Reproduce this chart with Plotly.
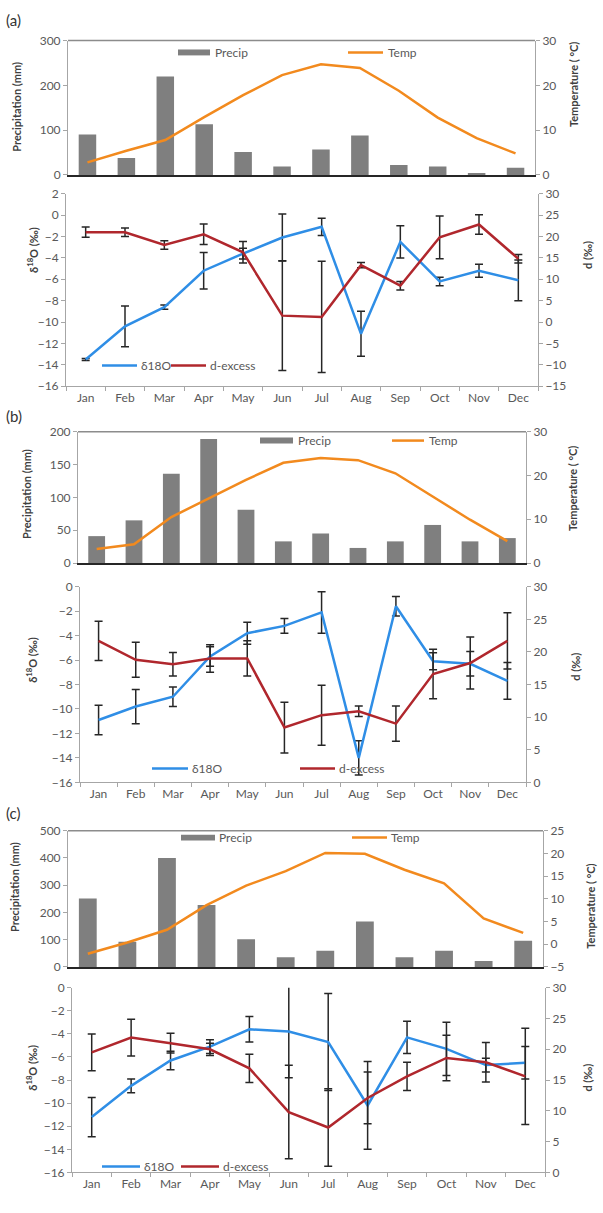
import plotly.graph_objects as go

months = ["Jan", "Feb", "Mar", "Apr", "May", "Jun", "Jul", "Aug", "Sep", "Oct", "Nov", "Dec"]

# ---- (a) ----
precip_a = [90, 38, 220, 113, 51, 19, 57, 88, 22, 19, 4, 16]
temp_a = [2.8, 5.4, 7.8, 12.9, 17.8, 22.3, 24.7, 23.9, 18.8, 12.8, 8.2, 4.8]
d18o_a = [-13.5, -10.4, -8.6, -5.2, -3.6, -2.1, -1.1, -11.1, -2.5, -6.2, -5.2, -6.1]
d18o_err_a = [0.1, 1.9, 0.2, 1.7, 0.5, 2.2, 0.8, 2.1, 1.5, 0.4, 0.6, 1.9]
dex_a = [21.0, 21.0, 18.0, 20.5, 16.3, 1.5, 1.2, 13.3, 8.5, 19.8, 22.8, 14.8]
dex_err_a = [1.2, 1.0, 1.0, 2.4, 2.5, 12.8, 13.0, 0.6, 1.0, 5.0, 2.3, 1.0]

# ---- (b) ----
precip_b = [41, 65, 136, 189, 81, 33, 45, 23, 33, 58, 33, 38]
temp_b = [3.2, 4.3, 10.5, 14.8, 19.0, 22.9, 24.0, 23.5, 20.5, 15.2, 9.9, 5.0]
d18o_b = [-10.9, -9.8, -9.0, -5.7, -3.8, -3.2, -2.1, -14.0, -1.6, -6.1, -6.3, -7.7]
d18o_err_b = [1.2, 1.4, 0.8, 0.8, 0.9, 0.6, 1.7, 1.4, 0.8, 0.7, 1.0, 1.5]
dex_b = [21.7, 18.8, 18.1, 19.0, 19.0, 8.4, 10.3, 10.9, 9.0, 16.6, 18.3, 21.7]
dex_err_b = [3.0, 2.7, 1.8, 2.1, 2.7, 3.9, 4.6, 0.8, 2.7, 3.8, 4.0, 4.3]

# ---- (c) ----
precip_c = [251, 93, 400, 227, 102, 36, 60, 167, 36, 60, 22, 96]
temp_c = [-2.1, 0.4, 3.2, 8.6, 12.9, 16.1, 20.1, 19.9, 16.4, 13.4, 5.7, 2.5]
d18o_c = [-11.2, -8.5, -6.3, -5.1, -3.6, -3.8, -4.7, -10.2, -4.3, -5.3, -6.7, -6.5]
d18o_err_c = [1.7, 0.6, 0.8, 0.6, 1.1, 4.0, 4.2, 3.8, 1.4, 2.3, 0.6, 1.4]
dex_c = [19.5, 21.9, 21.0, 20.0, 16.9, 9.8, 7.3, 12.1, 15.6, 18.6, 17.9, 15.6]
dex_err_c = [3.0, 3.0, 1.6, 1.0, 2.3, 7.6, 6.3, 4.2, 2.3, 3.7, 3.2, 7.8]

W, H = 603, 1213
FONT = "Lato"
TICK_COLOR = "#595959"
AXIS_GRAY = "#a6a6a6"
BAR_GRAY = "#7f7f7f"
ORANGE = "#f28a1e"
BLUE = "#2f8ee6"
RED = "#b0272d"
ERR = "#262626"

panels = [
    dict(label="(a)", label_y=12,
         precip=precip_a, temp=temp_a, iso=d18o_a, iso_err=d18o_err_a, dex=dex_a, dex_err=dex_err_a,
         top=(33, 169), bot=(188, 383), xtop=(68, 535), xbot=(66, 538),
         p_range=[0, 300], p_dtick=100, t_range=[0, 30], t_dtick=10,
         i_range=[-16, 2], d_range=[-15, 30],
         titles=dict(p=(17, 100), t=(573, 78), i=(33, 245), d=(588, 250)),
         leg_top=dict(y=45, ps=(178, 210), pt=213, ts=(348, 383), tt=386),
         leg_bot=dict(y=362, bs=(102, 137), bt=139, rs=(171, 206), rt=208)),
    dict(label="(b)", label_y=413,
         precip=precip_b, temp=temp_b, iso=d18o_b, iso_err=d18o_err_b, dex=dex_b, dex_err=dex_err_b,
         top=(429, 562), bot=(586, 784), xtop=(78, 526), xbot=(80, 526),
         p_range=[0, 200], p_dtick=50, t_range=[0, 30], t_dtick=10,
         i_range=[-16, 0], d_range=[0, 30],
         titles=dict(p=(27, 492), t=(573, 487), i=(32, 660), d=(576, 667)),
         leg_top=dict(y=438, ps=(260, 293), pt=296, ts=(392, 424), tt=427),
         leg_bot=dict(y=770, bs=(152, 188), bt=190, rs=(300, 335), rt=337)),
    dict(label="(c)", label_y=815,
         precip=precip_c, temp=temp_c, iso=d18o_c, iso_err=d18o_err_c, dex=dex_c, dex_err=dex_err_c,
         top=(833, 971), bot=(992, 1179), xtop=(68, 543), xbot=(72, 545),
         p_range=[0, 500], p_dtick=100, t_range=[-5, 25], t_dtick=5,
         i_range=[-16, 0], d_range=[0, 30],
         titles=dict(p=(15, 890), t=(591, 910), i=(32, 1073), d=(588, 1083)),
         leg_top=dict(y=840, ps=(181, 215), pt=217, ts=(352, 387), tt=389),
         leg_bot=dict(y=1173, bs=(102, 140), bt=142, rs=(181, 219), rt=221)),
]


def px(x):
    return x / W


def py(y):
    return 1 - y / H


def ref(prefix, n):
    return prefix + ("" if n == 1 else str(n))


def lname(prefix, n):
    return prefix + "axis" + ("" if n == 1 else str(n))


fig = go.Figure()
tickfont = dict(family=FONT, size=12, color=TICK_COLOR)
title_font = dict(family=FONT, size=11, color="#404040")
layout = {}
shapes = []
annotations = []


def y_axis(domain, rng, dtick, anchor, side="left", overlay=None):
    ax = dict(domain=domain, range=rng, dtick=dtick, anchor=anchor, side=side,
              showline=True, linecolor=AXIS_GRAY, linewidth=1,
              ticks="outside", ticklen=4, tickcolor=AXIS_GRAY,
              showgrid=False, zeroline=False, tickfont=tickfont, fixedrange=True)
    if overlay:
        ax["overlaying"] = overlay
    return ax


def legend_text(x, y, text):
    annotations.append(dict(x=px(x), y=py(y), xref="paper", yref="paper", text=text,
                            showarrow=False, xanchor="left", yanchor="middle",
                            font=dict(family=FONT, size=12, color=TICK_COLOR)))


def legend_line(x0, x1, y, color):
    shapes.append(dict(type="line", xref="paper", yref="paper", x0=px(x0), x1=px(x1),
                       y0=py(y), y1=py(y), line=dict(color=color, width=2.5)))


for i, p in enumerate(panels):
    xt, xb = 2 * i + 1, 2 * i + 2
    yp, yt, yi, yd = 4 * i + 1, 4 * i + 2, 4 * i + 3, 4 * i + 4

    top_dom = [py(p["top"][1]), py(p["top"][0])]
    bot_dom = [py(p["bot"][1]), py(p["bot"][0])]

    # climate panel: precipitation bars and temperature line
    fig.add_trace(go.Bar(x=months, y=p["precip"], width=0.45, marker_color=BAR_GRAY,
                         marker_line_width=0, name="Precip", showlegend=False,
                         xaxis=ref("x", xt), yaxis=ref("y", yp)))
    fig.add_trace(go.Scatter(x=months, y=p["temp"], mode="lines", line=dict(color=ORANGE, width=2.5),
                             name="Temp", showlegend=False,
                             xaxis=ref("x", xt), yaxis=ref("y", yt)))

    # isotope panel: δ18O and d-excess with error bars
    fig.add_trace(go.Scatter(x=months, y=p["iso"], mode="lines", line=dict(color=BLUE, width=2.5),
                             error_y=dict(type="data", array=p["iso_err"], color=ERR, thickness=1.5, width=4),
                             name="δ18O", showlegend=False,
                             xaxis=ref("x", xb), yaxis=ref("y", yi)))
    fig.add_trace(go.Scatter(x=months, y=p["dex"], mode="lines", line=dict(color=RED, width=2.5),
                             error_y=dict(type="data", array=p["dex_err"], color=ERR, thickness=1.5, width=4),
                             name="d-excess", showlegend=False,
                             xaxis=ref("x", xb), yaxis=ref("y", yd)))

    layout[lname("x", xt)] = dict(domain=[px(p["xtop"][0]), px(p["xtop"][1])], anchor=ref("y", yp),
                                  type="category", categoryorder="array", categoryarray=months,
                                  range=[-0.5, 11.5], showticklabels=False, ticks="",
                                  showline=True, linecolor="#262626", linewidth=1.5,
                                  showgrid=False, zeroline=False, fixedrange=True)
    layout[lname("x", xb)] = dict(domain=[px(p["xbot"][0]), px(p["xbot"][1])], anchor=ref("y", yi),
                                  type="category", categoryorder="array", categoryarray=months,
                                  range=[-0.5, 11.5], tickson="boundaries", ticks="outside",
                                  ticklen=4, tickcolor=AXIS_GRAY, showline=True, linecolor=AXIS_GRAY,
                                  linewidth=1, showgrid=False, zeroline=False, tickfont=tickfont,
                                  fixedrange=True)
    layout[lname("y", yp)] = y_axis(top_dom, p["p_range"], p["p_dtick"], ref("x", xt))
    layout[lname("y", yt)] = y_axis(top_dom, p["t_range"], p["t_dtick"], ref("x", xt), "right", ref("y", yp))
    layout[lname("y", yi)] = y_axis(bot_dom, p["i_range"], 2, ref("x", xb))
    layout[lname("y", yd)] = y_axis(bot_dom, p["d_range"], 5, ref("x", xb), "right", ref("y", yi))

    # frame line along the top of the climate panel
    shapes.append(dict(type="line", xref=ref("x", xt) + " domain", yref=ref("y", yp) + " domain",
                       x0=0, x1=1, y0=1, y1=1, line=dict(color="#8c8c8c", width=1.5)))

    # panel letter
    annotations.append(dict(x=px(4), y=py(p["label_y"]), xref="paper", yref="paper", text=p["label"],
                            showarrow=False, xanchor="left", yanchor="middle",
                            font=dict(family=FONT, size=15, color="#333333")))

    # axis titles
    t = p["titles"]
    for key, txt in [("p", "<b>Precipitation (mm)</b>"), ("t", "<b>Temperature ( °C)</b>"),
                     ("i", "<b>δ<sup>18</sup>O (‰)</b>"), ("d", "<b>d (‰)</b>")]:
        annotations.append(dict(x=px(t[key][0]), y=py(t[key][1]), xref="paper", yref="paper",
                                text=txt, showarrow=False, textangle=-90,
                                xanchor="center", yanchor="middle", font=title_font))

    # legends
    lt = p["leg_top"]
    shapes.append(dict(type="rect", xref="paper", yref="paper", x0=px(lt["ps"][0]), x1=px(lt["ps"][1]),
                       y0=py(lt["y"] + 3), y1=py(lt["y"] - 3), fillcolor=BAR_GRAY, line_width=0))
    legend_text(lt["pt"], lt["y"], "Precip")
    legend_line(lt["ts"][0], lt["ts"][1], lt["y"], ORANGE)
    legend_text(lt["tt"], lt["y"], "Temp")

    lb = p["leg_bot"]
    legend_line(lb["bs"][0], lb["bs"][1], lb["y"], BLUE)
    legend_text(lb["bt"], lb["y"], "δ18O")
    legend_line(lb["rs"][0], lb["rs"][1], lb["y"], RED)
    legend_text(lb["rt"], lb["y"], "d-excess")

fig.update_layout(width=W, height=H, margin=dict(l=0, r=0, t=0, b=0),
                  paper_bgcolor="white", plot_bgcolor="white",
                  showlegend=False, bargap=0.55,
                  shapes=shapes, annotations=annotations, **layout)

fig.write_html("out.html")
